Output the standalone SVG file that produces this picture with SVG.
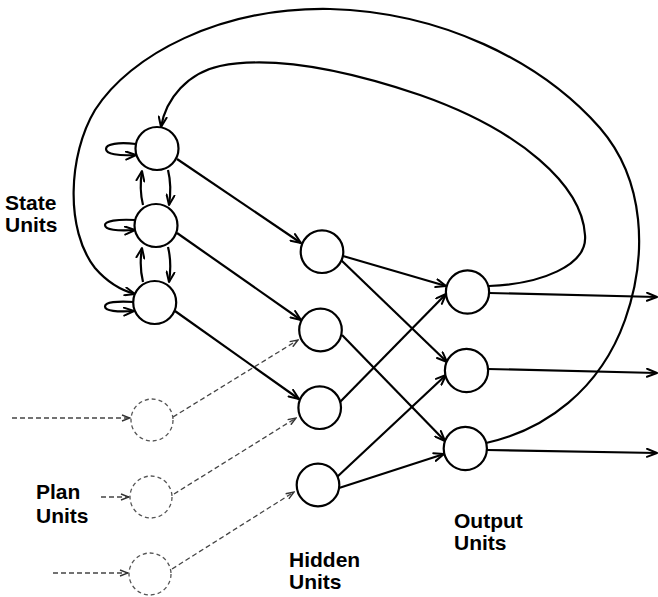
<svg xmlns="http://www.w3.org/2000/svg" width="658" height="597" viewBox="0 0 658 597">
<defs>
<marker id="arr" markerUnits="userSpaceOnUse" viewBox="0 0 12 10" refX="11" refY="5" markerWidth="12" markerHeight="10" orient="auto">
<path d="M1,1 L11,5 L1,9" fill="none" stroke="#000" stroke-width="2" stroke-linecap="round" stroke-linejoin="round"/>
</marker>
<marker id="darr" markerUnits="userSpaceOnUse" viewBox="0 0 10 8" refX="9" refY="4" markerWidth="10" markerHeight="8" orient="auto">
<path d="M1,1 L9,4 L1,7" fill="none" stroke="#333" stroke-width="1.4"/>
</marker>
</defs>
<style>
.unit{fill:#fff;stroke:#000;stroke-width:2.2}
.plan{fill:none;stroke:#555;stroke-width:1.3;stroke-dasharray:4 3}
.c{fill:none;stroke:#000;stroke-width:2.2;marker-end:url(#arr)}
.d{fill:none;stroke:#444;stroke-width:1.3;stroke-dasharray:5 3;marker-end:url(#darr)}
.lbl{font-family:"Liberation Sans",Arial,sans-serif;font-weight:bold;font-size:21px;fill:#000}
</style>
<g id="connectors">
<path class="c" d="M489,286 C540,284 588,266 585,235 C582,185 520,130 420,95 C340,68 270,56 220,66 C188,73 166,98 161,127"/>
<path class="c" d="M486,443 C545,430 600,390 625,320 C648,255 645,180 600,128 C540,60 440,12 330,9 C220,7 130,55 95,110 C68,155 65,230 95,268 C108,283 120,290 135,294"/>
<path class="c" d="M136,144 C118,142 106,144 106,149 C106,154 118,156 136,155"/>
<path class="c" d="M135,220 C117,219 105,221 105,225 C105,230 117,231 135,230"/>
<path class="c" d="M134,302 C117,301 105,302 105,306.5 C105,311 117,312 134,311"/>
<path class="c" d="M168,170 C171,182 171,192 169,205"/>
<path class="c" d="M143,205 C140,193 140,183 142,171"/>
<path class="c" d="M168,247 C171,259 171,269 169,282"/>
<path class="c" d="M143,282 C140,270 140,260 142,248"/>
<path class="c" d="M177,159 L301,243"/>
<path class="c" d="M177,233 L301,320"/>
<path class="c" d="M175,311 L299,399"/>
<path class="c" d="M343,256 L446,286"/>
<path class="c" d="M341,260 L447,362"/>
<path class="c" d="M342,335 L445,441"/>
<path class="c" d="M340,402 L446,294"/>
<path class="c" d="M337,477 L446,375"/>
<path class="c" d="M339,488 L444,454"/>
<path class="c" d="M489,293 L657,297"/>
<path class="c" d="M488,369 L657,373"/>
<path class="c" d="M487,450 L657,453"/>
<path class="d" d="M12,418 L130,418"/>
<path class="d" d="M101,497 L129,497"/>
<path class="d" d="M53,573 L128,573"/>
<path class="d" d="M173,417 L298,340"/>
<path class="d" d="M174,494 L296,418"/>
<path class="d" d="M172,569 L294,492"/>
</g>
<g id="state1"><circle class="unit" cx="157" cy="148.5" r="21.5"/></g>
<g id="state2"><circle class="unit" cx="156" cy="225.5" r="21.5"/></g>
<g id="state3"><circle class="unit" cx="154.7" cy="302.5" r="21.5"/></g>
<g id="hidden1"><circle class="unit" cx="322" cy="251.7" r="21.3"/></g>
<g id="hidden2"><circle class="unit" cx="320.5" cy="330" r="21.3"/></g>
<g id="hidden3"><circle class="unit" cx="319.7" cy="407.7" r="21.3"/></g>
<g id="hidden4"><circle class="unit" cx="318" cy="485" r="21.3"/></g>
<g id="output1"><circle class="unit" cx="467.5" cy="292" r="21.6"/></g>
<g id="output2"><circle class="unit" cx="466.5" cy="370.5" r="21.6"/></g>
<g id="output3"><circle class="unit" cx="465.3" cy="448.5" r="21.6"/></g>
<g id="plan1"><circle class="plan" cx="152" cy="420" r="21"/></g>
<g id="plan2"><circle class="plan" cx="151" cy="497" r="21"/></g>
<g id="plan3"><circle class="plan" cx="150" cy="574" r="21"/></g>
<g id="labels">
<text class="lbl" x="5" y="210">State</text>
<text class="lbl" x="5" y="231.5">Units</text>
<text class="lbl" x="36" y="498.5">Plan</text>
<text class="lbl" x="36" y="522.5">Units</text>
<text class="lbl" x="289" y="567">Hidden</text>
<text class="lbl" x="289" y="589">Units</text>
<text class="lbl" x="454" y="528">Output</text>
<text class="lbl" x="454" y="550">Units</text>
</g>
</svg>
